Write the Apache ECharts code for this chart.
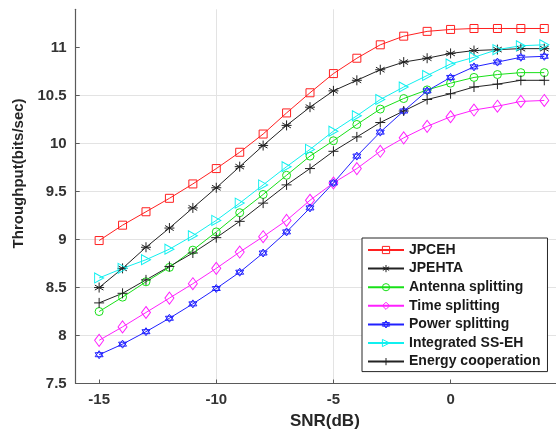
<!DOCTYPE html>
<html>
<head>
<meta charset="utf-8">
<script src="https://cdn.jsdelivr.net/npm/echarts@6/dist/echarts.min.js"></script>
<style>
  html, body { margin: 0; padding: 0; background: #fff; }
  #chart { width: 556px; height: 435px; }
</style>
</head>
<body>
<div id="chart"></div>
<script>
// SNR values (dB)
var snr = [-15, -14, -13, -12, -11, -10, -9, -8, -7, -6, -5, -4, -3, -2, -1, 0, 1, 2, 3, 4];

// Throughput (bits/sec) for each scheme
var jpceh      = [8.99, 9.15, 9.29, 9.43, 9.58, 9.74, 9.91, 10.10, 10.32, 10.53, 10.73, 10.89, 11.03, 11.12, 11.17, 11.19, 11.20, 11.20, 11.20, 11.20];
var jpehta     = [8.50, 8.70, 8.92, 9.12, 9.33, 9.54, 9.76, 9.98, 10.19, 10.38, 10.55, 10.66, 10.77, 10.85, 10.89, 10.94, 10.97, 10.98, 10.99, 10.99];
var antenna    = [8.25, 8.40, 8.56, 8.71, 8.89, 9.08, 9.28, 9.47, 9.67, 9.87, 10.03, 10.20, 10.36, 10.47, 10.56, 10.63, 10.69, 10.72, 10.74, 10.74];
var timeSplit  = [7.95, 8.09, 8.24, 8.39, 8.54, 8.70, 8.87, 9.03, 9.20, 9.41, 9.59, 9.74, 9.92, 10.06, 10.18, 10.28, 10.35, 10.39, 10.44, 10.45];
var powerSplit = [7.80, 7.91, 8.04, 8.18, 8.33, 8.49, 8.66, 8.86, 9.08, 9.33, 9.59, 9.87, 10.12, 10.34, 10.55, 10.69, 10.80, 10.85, 10.90, 10.91];
var integrated = [8.60, 8.70, 8.79, 8.90, 9.04, 9.20, 9.38, 9.57, 9.76, 9.94, 10.13, 10.29, 10.46, 10.59, 10.71, 10.83, 10.90, 10.98, 11.02, 11.03];
var energyCoop = [8.34, 8.44, 8.58, 8.72, 8.86, 9.02, 9.19, 9.38, 9.57, 9.74, 9.92, 10.07, 10.22, 10.34, 10.46, 10.52, 10.59, 10.62, 10.66, 10.66];

var seriesNames = ['JPCEH', 'JPEHTA', 'Antenna splitting', 'Time splitting', 'Power splitting', 'Integrated SS-EH', 'Energy cooperation'];
var xTicks = [-15, -10, -5, 0];
var yTicks = [7.5, 8, 8.5, 9, 9.5, 10, 10.5, 11];

// marker shapes (outline only)
var SYM_ASTERISK = 'path://M0,-1L0,1M-0.866,-0.5L0.866,0.5M-0.866,0.5L0.866,-0.5M-1,0L1,0';
var SYM_PLUS = 'path://M0,-1L0,1M-1,0L1,0';
var SYM_HEXAGRAM = 'path://M0,-1L0.866,0.5L-0.866,0.5ZM0,1L0.866,-0.5L-0.866,-0.5Z';
var SYM_TRIRIGHT = 'path://M-0.75,-1L1,0L-0.75,1Z';
var HOLLOW = 'rgba(255,255,255,0)';

function makeSeries(name, values, color, symbol, size) {
  return {
    name: name,
    type: 'line',
    data: snr.map(function (x, i) { return [x, values[i]]; }),
    color: color,
    symbol: symbol,
    symbolSize: size,
    showAllSymbol: true,
    lineStyle: { color: color, width: 1 },
    itemStyle: { color: HOLLOW, borderColor: color, borderWidth: 1 },
    emphasis: { disabled: true },
    animation: false
  };
}

var chart = echarts.init(document.getElementById('chart'), null, { renderer: 'canvas' });
var font = 'Liberation Sans, Arial, sans-serif';
var palette = ['#ff2020', '#222222', '#18e018', '#ff20ff', '#2020ff', '#10f0f0', '#222222'];

chart.setOption({
  backgroundColor: '#ffffff',
  animation: false,
  grid: { left: 75.7, right: -2.7, top: 9.3, bottom: 51.5, containLabel: false },
  xAxis: {
    type: 'value',
    min: -16, max: 4.5,
    name: 'SNR(dB)',
    nameLocation: 'middle',
    nameGap: 29,
    nameTextStyle: { fontFamily: font, fontWeight: 'bold', fontSize: 17, color: '#262626', padding: [0, 0, 0, 18] },
    axisLine: { show: true, onZero: false, lineStyle: { color: '#5a5a5a', width: 1.2 } },
    axisTick: { show: true, inside: true, length: 4, customValues: xTicks, lineStyle: { color: '#5a5a5a' } },
    axisLabel: { customValues: xTicks, fontFamily: font, fontWeight: 'bold', fontSize: 15, color: '#333333', margin: 9 },
    splitLine: { show: true, showMinLine: false, showMaxLine: false, lineStyle: { color: '#e3e3e3', width: 1 } }
  },
  yAxis: {
    type: 'value',
    min: 7.5, max: 11.4,
    splitNumber: 8,
    name: 'Throughput(bits/sec)',
    nameLocation: 'middle',
    nameGap: 46,
    nameRotate: 90,
    nameTextStyle: { fontFamily: font, fontWeight: 'bold', fontSize: 15, color: '#262626', padding: [0, 0, 0, 46] },
    axisLine: { show: true, onZero: false, lineStyle: { color: '#5a5a5a', width: 1.2 } },
    axisTick: { show: true, inside: true, length: 4, customValues: yTicks, lineStyle: { color: '#5a5a5a' } },
    axisLabel: { customValues: yTicks, fontFamily: font, fontWeight: 'bold', fontSize: 15, color: '#333333', margin: 9 },
    splitLine: { show: true, showMinLine: false, showMaxLine: false, lineStyle: { color: '#e3e3e3', width: 1 } }
  },
  legend: {
    orient: 'vertical',
    left: 362, top: 238,
    padding: [5, 7, 3, 5],
    itemGap: 4.6,
    itemWidth: 36,
    itemHeight: 9,
    backgroundColor: '#ffffff',
    borderColor: '#262626',
    borderWidth: 1,
    borderRadius: 0,
    itemStyle: { color: HOLLOW, borderWidth: 1 },
    textStyle: { fontFamily: font, fontWeight: 'bold', fontSize: 14, color: '#1a1a1a' },
    data: seriesNames.map(function (n, i) {
      return { name: n, itemStyle: { color: HOLLOW, borderColor: palette[i], borderWidth: 1 } };
    })
  },
  series: [
    makeSeries(seriesNames[0], jpceh,      palette[0], 'rect', 8),
    makeSeries(seriesNames[1], jpehta,     palette[1], SYM_ASTERISK, 10),
    makeSeries(seriesNames[2], antenna,    palette[2], 'circle', 8),
    makeSeries(seriesNames[3], timeSplit,  palette[3], 'diamond', [9, 12]),
    makeSeries(seriesNames[4], powerSplit, palette[4], SYM_HEXAGRAM, 8),
    makeSeries(seriesNames[5], integrated, palette[5], SYM_TRIRIGHT, [9, 10]),
    makeSeries(seriesNames[6], energyCoop, palette[6], SYM_PLUS, 10)
  ]
});
</script>
</body>
</html>
